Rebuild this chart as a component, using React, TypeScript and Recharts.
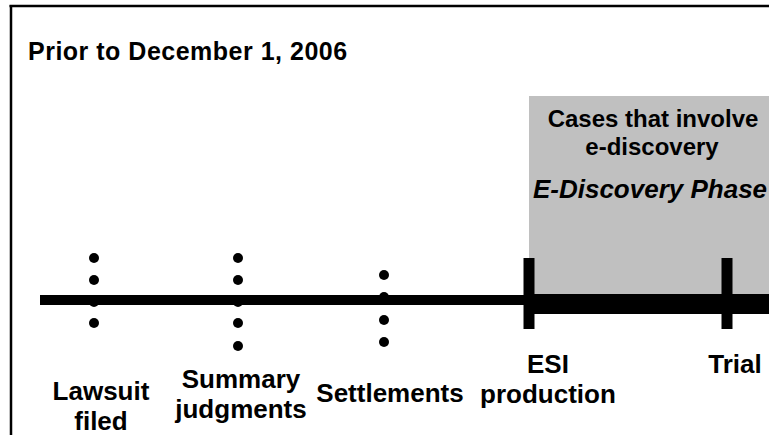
import React from 'react';
import { ScatterChart, Scatter, XAxis, YAxis, ReferenceArea, ReferenceLine } from 'recharts';

// timeline events (x = position on the timeline, in chart units)
const eventNames = [['Lawsuit', 'filed'], ['Summary', 'judgments'], ['Settlements'], ['ESI', 'production'], ['Trial']];
const eventAt = [94, 238, 384, 529, 727];
const labelAt = [101, 241, 390, 548, 735];
const labelTop = [400, 388, 402, 373, 373];

// the "…" dots stacked over each pre-2006 event
const lawsuitDots = [258, 280, 302, 323];
const summaryDots = [258, 280, 302, 323, 346];
const settlementDots = [275, 297, 320, 342];

const title = 'Prior to December 1, 2006';
const phaseNote = ['Cases that involve', 'e-discovery'];
const phaseName = 'E-Discovery Phase';

const W = 769;
const H = 435;
const FONT = '"Liberation Sans", Arial, Helvetica, sans-serif';

const dotData = [
  ...lawsuitDots.map((y) => ({ x: eventAt[0], y })),
  ...summaryDots.map((y) => ({ x: eventAt[1], y })),
  ...settlementDots.map((y) => ({ x: eventAt[2], y })),
];

type Txt = { x: number; y: number; text: string; size: number; italic?: boolean; anchor?: string; ls?: number };

const textData: Txt[] = [
  { x: 28, y: 60, text: title, size: 25, anchor: 'start', ls: 0.5 },
  { x: 653, y: 127, text: phaseNote[0], size: 24, ls: 0 },
  { x: 652, y: 155, text: phaseNote[1], size: 24, ls: 0 },
  { x: 650, y: 198, text: phaseName, size: 26, italic: true },
];
eventNames.forEach((lines, i) => {
  lines.forEach((t, j) => {
    textData.push({ x: labelAt[i], y: labelTop[i] + j * 30, text: t, size: 26 });
  });
});

const Dot = (props: any) => <circle cx={props.cx} cy={props.cy} r={5} fill="#000" />;

const TextShape = (props: any) => {
  const p = props.payload as Txt;
  return (
    <text
      x={props.cx}
      y={props.cy}
      textAnchor={p.anchor || 'middle'}
      fontSize={p.size}
      fontWeight="bold"
      fontStyle={p.italic ? 'italic' : 'normal'}
      letterSpacing={p.ls || 0}
      fontFamily={FONT}
      fill="#000"
    >
      {p.text}
    </text>
  );
};

export default function App() {
  const phaseStart = eventAt[3];
  return (
    <div style={{ position: 'absolute', left: 0, top: 0, width: W, height: H, background: '#fff', fontFamily: FONT }}>
      <ScatterChart width={W} height={H} margin={{ top: 0, right: 0, bottom: 0, left: 0 }}>
        <XAxis type="number" dataKey="x" domain={[0, W]} hide allowDataOverflow />
        <YAxis type="number" dataKey="y" domain={[0, H]} reversed hide allowDataOverflow width={0} />

        {/* frame */}
        <ReferenceLine segment={[{ x: 9.5, y: 6 }, { x: W, y: 6 }]} stroke="#000" strokeWidth={2.5} />
        <ReferenceLine segment={[{ x: 11, y: 5 }, { x: 11, y: H }]} stroke="#000" strokeWidth={2.5} />

        {/* e-discovery phase box */}
        <ReferenceArea x1={phaseStart} x2={W} y1={96} y2={294} fill="#c0c0c0" fillOpacity={1} stroke="none" />

        {/* timeline */}
        <ReferenceLine segment={[{ x: 40, y: 300 }, { x: phaseStart, y: 300 }]} stroke="#000" strokeWidth={10} />
        <ReferenceLine segment={[{ x: phaseStart, y: 304 }, { x: W, y: 304 }]} stroke="#000" strokeWidth={20} />

        {/* event ticks */}
        <ReferenceLine segment={[{ x: eventAt[3], y: 258 }, { x: eventAt[3], y: 329 }]} stroke="#000" strokeWidth={11} />
        <ReferenceLine segment={[{ x: eventAt[4], y: 258 }, { x: eventAt[4], y: 329 }]} stroke="#000" strokeWidth={11} />

        <Scatter data={dotData} shape={<Dot />} isAnimationActive={false} />
        <Scatter data={textData} shape={<TextShape />} isAnimationActive={false} />
      </ScatterChart>
    </div>
  );
}
